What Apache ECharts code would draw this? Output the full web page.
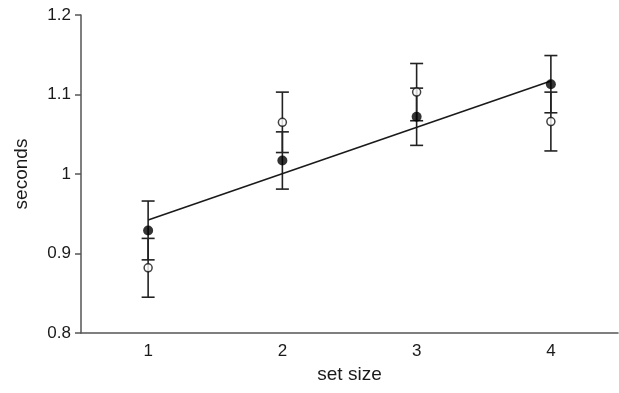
<!DOCTYPE html>
<html>
<head>
<meta charset="utf-8">
<script src="https://cdn.jsdelivr.net/npm/echarts@6/dist/echarts.min.js"></script>
<style>
  html, body { margin: 0; padding: 0; background: #fff; }
  #chart { width: 619px; height: 393px; }
</style>
</head>
<body>
<div id="chart"></div>
<script>
const setSizes = [1, 2, 3, 4]
const filledMeans = [0.929, 1.017, 1.072, 1.113]
const filledErr = [0.037, 0.036, 0.036, 0.036]
const openMeans = [0.882, 1.065, 1.103, 1.066]
const openErr = [0.037, 0.038, 0.036, 0.037]
const fitLine = [[1, 0.942], [4, 1.117]]
const yTicks = [0.8, 0.9, 1, 1.1, 1.2]

const chart = echarts.init(document.getElementById('chart'))

// error bar: vertical line with two caps
function errorBar(params, api) {
  const x = api.value(0)
  const lo = api.coord([x, api.value(1)])
  const hi = api.coord([x, api.value(2)])
  const w = 6.5
  const style = { stroke: '#222', lineWidth: 1.6 }
  return {
    type: 'group',
    children: [
      { type: 'line', shape: { x1: lo[0], y1: lo[1], x2: hi[0], y2: hi[1] }, style },
      { type: 'line', shape: { x1: lo[0] - w, y1: lo[1], x2: lo[0] + w, y2: lo[1] }, style },
      { type: 'line', shape: { x1: hi[0] - w, y1: hi[1], x2: hi[0] + w, y2: hi[1] }, style }
    ]
  }
}

const filledBars = setSizes.map((s, i) => [s, filledMeans[i] - filledErr[i], filledMeans[i] + filledErr[i]])
const openBars = setSizes.map((s, i) => [s, openMeans[i] - openErr[i], openMeans[i] + openErr[i]])

const option = {
  animation: false,
  grid: { left: 81, right: 1, top: 15, bottom: 60 },
  xAxis: {
    type: 'value',
    min: 0.5,
    max: 4.5,
    name: 'set size',
    nameLocation: 'middle',
    nameGap: 30,
    nameTextStyle: { fontFamily: 'Liberation Sans', fontSize: 19, color: '#1a1a1a' },
    axisLine: { lineStyle: { color: '#555', width: 1.5 } },
    axisTick: { show: false },
    splitLine: { show: false },
    axisLabel: {
      customValues: setSizes,
      fontFamily: 'Liberation Sans',
      fontSize: 17,
      color: '#1a1a1a',
      margin: 10
    }
  },
  yAxis: {
    type: 'value',
    min: 0.8,
    max: 1.2,
    interval: 0.1,
    name: 'seconds',
    nameLocation: 'middle',
    nameGap: 50,
    nameTextStyle: { fontFamily: 'Liberation Sans', fontSize: 19, color: '#1a1a1a' },
    axisLine: { show: true, lineStyle: { color: '#555', width: 1.5 } },
    axisTick: { show: true, length: 6, lineStyle: { color: '#555', width: 1.5 } },
    splitLine: { show: false },
    axisLabel: {
      customValues: yTicks,
      fontFamily: 'Liberation Sans',
      fontSize: 17,
      color: '#1a1a1a',
      margin: 10,
      formatter: v => String(+v.toFixed(1))
    }
  },
  series: [
    { type: 'custom', renderItem: errorBar, data: filledBars, z: 1 },
    { type: 'custom', renderItem: errorBar, data: openBars, z: 1 },
    {
      type: 'line',
      data: fitLine,
      symbol: 'none',
      lineStyle: { color: '#1a1a1a', width: 1.6 },
      z: 2
    },
    {
      type: 'scatter',
      data: setSizes.map((s, i) => [s, openMeans[i]]),
      symbol: 'circle',
      symbolSize: 8,
      itemStyle: { color: '#fff', borderColor: '#111', borderWidth: 1.5 },
      z: 3
    },
    {
      type: 'scatter',
      data: setSizes.map((s, i) => [s, filledMeans[i]]),
      symbol: 'circle',
      symbolSize: 10,
      itemStyle: { color: '#000' },
      z: 3
    }
  ]
}

chart.setOption(option)
</script>
</body>
</html>
